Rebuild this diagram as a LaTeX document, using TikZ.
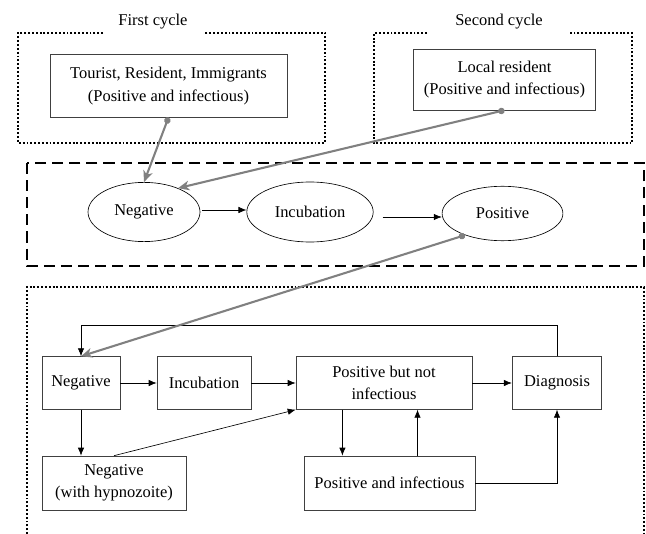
\documentclass[tikz,border=0pt]{standalone}
\usepackage{fontspec}
\setmainfont{Liberation Serif}
\usetikzlibrary{arrows.meta,shapes.geometric}

\tikzset{
	box/.style={draw=black!75, rectangle, align=center, inner sep=1pt},
	oval/.style={draw=black, ellipse, align=center, inner sep=1pt},
	flow/.style={-{Latex[length=5pt,width=4pt]}, black},
	feed/.style={{Circle[length=4pt]}-{Stealth[length=7pt,width=6pt,inset=2pt]}, black!50, line width=1.3pt},
	cycle/.style={dash pattern=on 1.2pt off 1.2pt, line width=1.6pt},
	stage/.style={dash pattern=on 6.9pt off 3.8pt, line width=1.3pt}
}

\begin{document}
\begin{tikzpicture}[x=0.625pt, y=-0.625pt, font=\fontsize{10.3}{13.8}\selectfont]

	\useasboundingbox (0,0) rectangle (646,534);

	% Draw the two cycles
	\node (first) at (153,22) {First cycle};
	\node (second) at (499,22) {Second cycle};
	\draw[cycle] (103,33) -- (18,33) -- (18,143) -- (325,143) -- (325,33) -- (205,33);
	\draw[cycle] (427,33) -- (374,33) -- (374,143) -- (632,143) -- (632,33) -- (570,33);

	\node[box, minimum width=148pt, minimum height=39pt] (tourist) at (168.5,86)
		{Tourist, Resident, Immigrants\\(Positive and infectious)};
	\node[box, minimum width=114pt, minimum height=38pt] (local) at (504.5,79.5)
		{Local resident\\(Positive and infectious)};

	% Draw the middle stage
	\draw[stage] (27,163) rectangle (644,266);
	\node[oval, minimum width=70pt, minimum height=37pt] (neg) at (144,212) {Negative};
	\node[oval, minimum width=79pt, minimum height=37.5pt] (inc) at (310,212) {Incubation};
	\node[oval, minimum width=75.5pt, minimum height=34pt] (pos) at (502.5,213.5) {Positive};

	\draw[flow] (neg.east) ++(2,-2) -- (inc.west |- 0,210);
	\draw[flow] (inc.east) ++(9,5) -- (pos.west |- 0,217);

	% Draw the lower stage
	\draw[cycle] (27,534) -- (27,287) -- (644,287) -- (644,534);

	\node[box, minimum width=48.75pt, minimum height=33pt] (bneg) at (81,383) {Negative};
	\node[box, minimum width=58.75pt, minimum height=33pt] (binc) at (204,383) {Incubation};
	\node[box, minimum width=110pt, minimum height=33pt] (bpni) at (384,383) {Positive but not\\infectious};
	\node[box, minimum width=56pt, minimum height=33pt] (bdiag) at (557,383) {Diagnosis};
	\node[box, minimum width=90pt, minimum height=33.75pt] (bhyp) at (114,483) {Negative\\(with hypnozoite)};
	\node[box, minimum width=107pt, minimum height=33.75pt] (bpai) at (389.5,483) {Positive and infectious};

	\draw[flow] (bneg.east) -- (binc.west);
	\draw[flow] (binc.east) -- (bpni.west);
	\draw[flow] (bpni.east) -- (bdiag.west);
	\draw[flow] (bneg.south) -- (bneg.south |- bhyp.north);
	\draw[flow] (bhyp.north) -- (bpni.south west);
	\draw[flow] ([xshift=-26pt]bpni.south) -- ([xshift=-26pt]bpni.south |- bpai.north);
	\draw[flow] ([xshift=17.5pt]bpai.north) -- ([xshift=17.5pt]bpai.north |- bpni.south);
	\draw[flow] (bpai.east) -| (bdiag.south);
	\draw[flow] (bdiag.north) -- ++(0,-31) -| (bneg.north);

	% Draw the infection links
	\draw[feed] (tourist.south) -- (neg.north);
	\draw[feed] (local.south) -- (neg.35);
	\draw[feed] (pos.210) -- (bneg.north);

\end{tikzpicture}
\end{document}
